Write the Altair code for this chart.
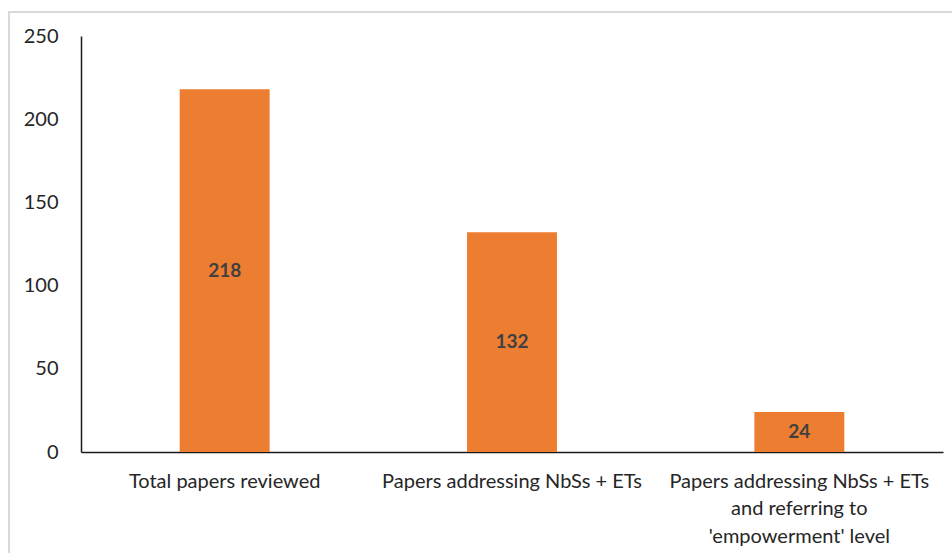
import altair as alt
import pandas as pd

categories = [
    "Total papers reviewed",
    "Papers addressing NbSs + ETs",
    "Papers addressing NbSs + ETs|and referring to|'empowerment' level",
]
values = [218, 132, 24]

df = pd.DataFrame({"category": categories, "value": values})

FONT = "Lato"

x = alt.X(
    "category:N",
    sort=categories,
    scale=alt.Scale(paddingInner=0.687, paddingOuter=0.3435),
    axis=alt.Axis(
        title=None,
        labelAngle=0,
        labelExpr="split(datum.value, '|')",
        labelFont=FONT,
        labelFontSize=20,
        labelColor="#262626",
        labelLimit=400,
        labelPadding=19,
        labelLineHeight=27.5,
        labelBaseline="top",
        ticks=False,
        tickSize=0,
        domainColor="#1a1a1a",
        domainWidth=1.5,
        grid=False,
    ),
)

y = alt.Y(
    "value:Q",
    scale=alt.Scale(domain=[0, 250], nice=False),
    axis=alt.Axis(
        title=None,
        values=[0, 50, 100, 150, 200, 250],
        labelFont=FONT,
        labelFontSize=20,
        labelColor="#262626",
        labelPadding=23,
        ticks=False,
        tickSize=0,
        domainColor="#1a1a1a",
        domainWidth=1.5,
        grid=False,
    ),
)

frame_left = alt.Chart(df).mark_rule(stroke="#d9d9d9", strokeWidth=2).encode(
    x=alt.value(-72), y=alt.value(-25), y2=alt.value(600)
)
frame_top = alt.Chart(df).mark_rule(stroke="#d9d9d9", strokeWidth=2).encode(
    x=alt.value(-73), x2=alt.value(1000), y=alt.value(-24)
)

bars = alt.Chart(df).mark_bar(color="#ED7D31").encode(x=x, y=y)

labels = alt.Chart(df).transform_calculate(mid="datum.value / 2").mark_text(
    font=FONT, fontSize=19, fontWeight="bold", color="#404040", baseline="middle"
).encode(
    x=alt.X("category:N", sort=categories),
    y=alt.Y("mid:Q"),
    text=alt.Text("value:Q"),
)

chart = (
    alt.layer(frame_left, frame_top, bars, labels)
    .properties(
        width=862,
        height=416,
        autosize=alt.AutoSizeParams(type="none"),
        padding={"left": 81, "top": 36, "right": 9, "bottom": 101},
        background="white",
    )
    .configure_view(strokeWidth=0, stroke="transparent")
)

chart.save("out.html", embed_options={"renderer": "svg", "actions": False})
